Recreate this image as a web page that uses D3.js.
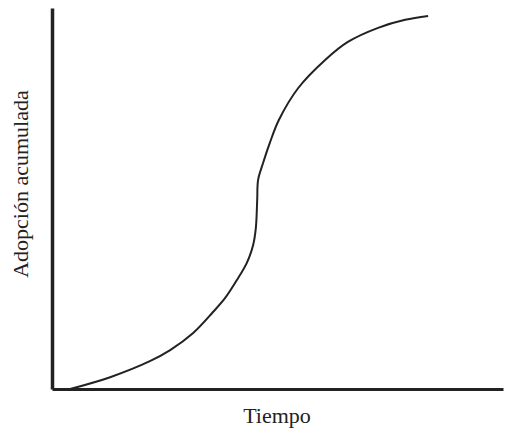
<!DOCTYPE html>
<html>
<head>
<meta charset="utf-8">
<script src="https://cdn.jsdelivr.net/npm/d3@7"></script>
<style>
  body { margin: 0; background: #fff; }
  .aText { font-family: "Liberation Serif", "Times New Roman", serif; font-size: 22px; fill: #222; }
</style>
</head>
<body>
<div id="chart"></div>
<script>
// Values (time and cumulative adoption, 0-100 units)
var tiempo   = [4, 12.9, 21.7, 26.2, 31.3, 35.7, 38.4, 41.0, 43.2, 44.6, 45.2, 45.5, 45.7, 46.8, 48.3, 50.3, 54.6, 60.5, 65.6, 72.3, 78.3, 83.4];
var adopcion = [0, 3.1, 7.3, 10.2, 14.7, 20.2, 23.9, 28.6, 33.1, 37.8, 42.3, 49.6, 54.9, 59.3, 64.6, 70.6, 79, 86.3, 91.1, 94.8, 96.9, 97.9];

var svgWidth = 527;
var svgHeight = 435;
var margin = { top: 8, right: 24, bottom: 46, left: 52 };
var width = svgWidth - margin.left - margin.right;
var height = svgHeight - margin.top - margin.bottom;

var svg = d3.select("#chart")
  .append("svg")
  .attr("width", svgWidth)
  .attr("height", svgHeight);
var chartGroup = svg.append("g")
  .attr("transform", `translate(${margin.left}, ${margin.top})`);

var xScale = d3.scaleLinear().domain([0, 100]).range([0, width]);
var yScale = d3.scaleLinear().domain([0, 100]).range([height, 0]);

// Plain axes, no ticks
var bottomAxis = d3.axisBottom(xScale).tickValues([]).tickSizeOuter(0);
var leftAxis = d3.axisLeft(yScale).tickValues([]).tickSizeOuter(0);

chartGroup.append("g")
  .attr("transform", `translate(0, ${height})`)
  .call(bottomAxis)
  .select(".domain").attr("stroke", "#222").attr("stroke-width", 3);
chartGroup.append("g")
  .call(leftAxis)
  .select(".domain").attr("stroke", "#222").attr("stroke-width", 3.5);

// S curve
var line = d3.line()
  .x((d, i) => xScale(tiempo[i]))
  .y((d, i) => yScale(adopcion[i]))
  .curve(d3.curveCatmullRom.alpha(0.5));

chartGroup.append("path")
  .datum(tiempo)
  .attr("d", line)
  .attr("fill", "none")
  .attr("stroke", "#222")
  .attr("stroke-width", 2);

// x-axis label
chartGroup.append("text")
  .attr("x", 225)
  .attr("y", height + 34)
  .attr("text-anchor", "middle")
  .classed("aText", true)
  .text("Tiempo");

// y-axis label
chartGroup.append("text")
  .attr("transform", "rotate(-90)")
  .attr("x", -(184 - margin.top))
  .attr("y", 28 - margin.left)
  .attr("text-anchor", "middle")
  .classed("aText", true)
  .text("Adopción acumulada");
</script>
</body>
</html>
